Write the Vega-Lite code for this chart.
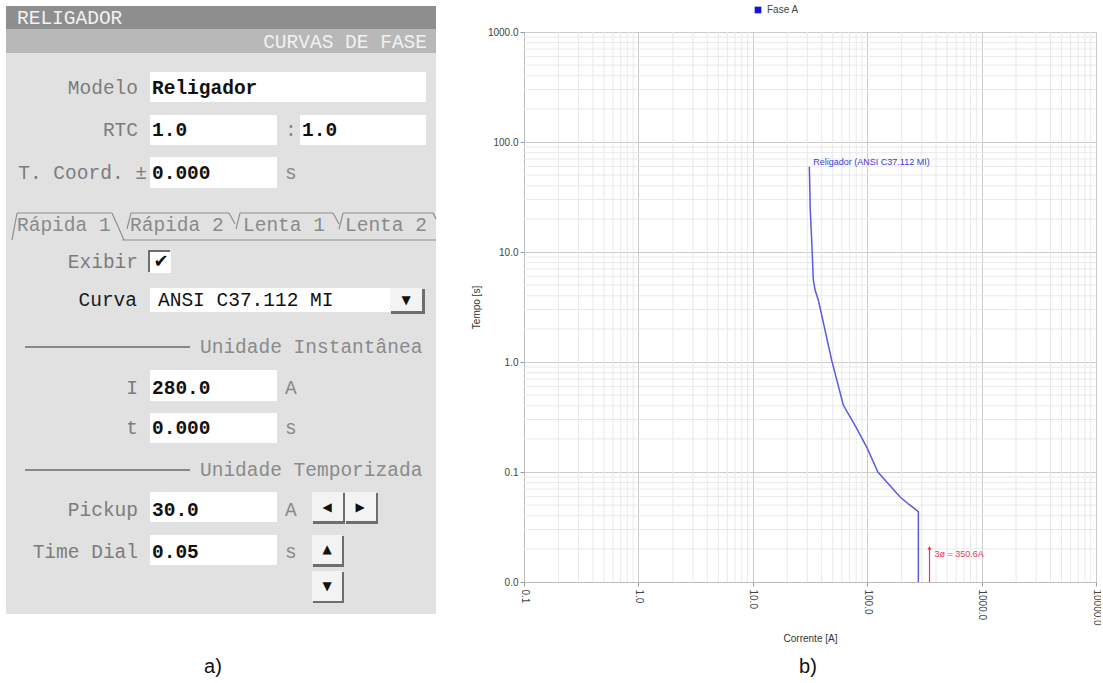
{
  "$schema": "https://vega.github.io/schema/vega-lite/v6.json",
  "padding": 0,
  "background": "white",
  "spacing": 24,
  "bounds": "flush",
  "config": {"view": {"stroke": null}, "font": "Liberation Sans"},
  "resolve": {"scale": {"color": "independent"}, "legend": {"color": "independent"}},
  "datasets": {
    "ui_rects": [
      {"x": 0, "x2": 440, "y": 0, "y2": 683, "kind": "bg"},
      {"x": 6, "x2": 436, "y": 6, "y2": 614, "kind": "panel"},
      {"x": 6, "x2": 436, "y": 6, "y2": 29, "kind": "bar1"},
      {"x": 6, "x2": 436, "y": 29, "y2": 53, "kind": "bar2"},
      {"x": 150, "x2": 426, "y": 72, "y2": 102, "kind": "field"},
      {"x": 150, "x2": 277, "y": 115, "y2": 145, "kind": "field"},
      {"x": 300, "x2": 426, "y": 115, "y2": 145, "kind": "field"},
      {"x": 150, "x2": 277, "y": 157, "y2": 188, "kind": "field"},
      {"x": 148, "x2": 170, "y": 250, "y2": 272, "kind": "shadow"},
      {"x": 150, "x2": 171, "y": 252, "y2": 273, "kind": "field"},
      {"x": 150, "x2": 422, "y": 288, "y2": 312, "kind": "field"},
      {"x": 391, "x2": 425, "y": 289, "y2": 314, "kind": "shadow"},
      {"x": 390, "x2": 422, "y": 288, "y2": 311, "kind": "button"},
      {"x": 313, "x2": 345, "y": 493, "y2": 524, "kind": "shadow"},
      {"x": 312, "x2": 343, "y": 492, "y2": 521, "kind": "button"},
      {"x": 346, "x2": 378, "y": 493, "y2": 524, "kind": "shadow"},
      {"x": 345, "x2": 376, "y": 492, "y2": 521, "kind": "button"},
      {"x": 313, "x2": 344, "y": 536, "y2": 567, "kind": "shadow"},
      {"x": 312, "x2": 342, "y": 535, "y2": 564, "kind": "button"},
      {"x": 313, "x2": 344, "y": 572, "y2": 603, "kind": "shadow"},
      {"x": 312, "x2": 342, "y": 571, "y2": 601, "kind": "button"},
      {"x": 150, "x2": 277, "y": 370, "y2": 401, "kind": "field"},
      {"x": 150, "x2": 277, "y": 413, "y2": 443, "kind": "field"},
      {"x": 150, "x2": 277, "y": 492, "y2": 522, "kind": "field"},
      {"x": 150, "x2": 277, "y": 535, "y2": 565, "kind": "field"}
    ],
    "ui_lines": [
      {"x": 25, "x2": 190, "y": 347, "y2": 347, "kind": "sep"},
      {"x": 25, "x2": 190, "y": 470, "y2": 470, "kind": "sep"},
      {"x": 12, "x2": 17, "y": 240, "y2": 213, "kind": "tab"},
      {"x": 17, "x2": 112, "y": 213, "y2": 213, "kind": "tab"},
      {"x": 112, "x2": 124, "y": 213, "y2": 240, "kind": "tab"},
      {"x": 122, "x2": 436, "y": 240, "y2": 240, "kind": "tab"},
      {"x": 127, "x2": 131, "y": 229, "y2": 213, "kind": "tab"},
      {"x": 131, "x2": 229, "y": 213, "y2": 213, "kind": "tab"},
      {"x": 229, "x2": 235, "y": 213, "y2": 224, "kind": "tab"},
      {"x": 236, "x2": 240, "y": 229, "y2": 213, "kind": "tab"},
      {"x": 240, "x2": 333, "y": 213, "y2": 213, "kind": "tab"},
      {"x": 333, "x2": 339, "y": 213, "y2": 224, "kind": "tab"},
      {"x": 339, "x2": 343, "y": 229, "y2": 213, "kind": "tab"},
      {"x": 343, "x2": 433, "y": 213, "y2": 213, "kind": "tab"},
      {"x": 433, "x2": 436, "y": 213, "y2": 219, "kind": "tab"}
    ],
    "ui_texts": [
      {"x": 17, "y": 18, "text": "RELIGADOR", "kind": "head"},
      {"x": 427, "y": 42, "text": "CURVAS DE FASE", "kind": "headR"},
      {"x": 138, "y": 88, "text": "Modelo", "kind": "label"},
      {"x": 138, "y": 130, "text": "RTC", "kind": "label"},
      {"x": 147, "y": 173, "text": "T. Coord. ±", "kind": "label"},
      {"x": 138, "y": 262, "text": "Exibir", "kind": "label"},
      {"x": 138, "y": 388, "text": "I", "kind": "label"},
      {"x": 138, "y": 428, "text": "t", "kind": "label"},
      {"x": 138, "y": 510, "text": "Pickup", "kind": "label"},
      {"x": 138, "y": 552, "text": "Time Dial", "kind": "label"},
      {"x": 137, "y": 300, "text": "Curva", "kind": "labelDark"},
      {"x": 152, "y": 88, "text": "Religador", "kind": "value"},
      {"x": 152, "y": 130, "text": "1.0", "kind": "value"},
      {"x": 302, "y": 130, "text": "1.0", "kind": "value"},
      {"x": 152, "y": 173, "text": "0.000", "kind": "value"},
      {"x": 152, "y": 388, "text": "280.0", "kind": "value"},
      {"x": 152, "y": 428, "text": "0.000", "kind": "value"},
      {"x": 152, "y": 510, "text": "30.0", "kind": "value"},
      {"x": 152, "y": 552, "text": "0.05", "kind": "value"},
      {"x": 158, "y": 300, "text": "ANSI C37.112 MI", "kind": "valueN"},
      {"x": 285, "y": 130, "text": ":", "kind": "unit"},
      {"x": 285, "y": 173, "text": "s", "kind": "unit"},
      {"x": 285, "y": 388, "text": "A", "kind": "unit"},
      {"x": 285, "y": 428, "text": "s", "kind": "unit"},
      {"x": 285, "y": 510, "text": "A", "kind": "unit"},
      {"x": 285, "y": 552, "text": "s", "kind": "unit"},
      {"x": 200, "y": 347, "text": "Unidade Instantânea", "kind": "section"},
      {"x": 200, "y": 470, "text": "Unidade Temporizada", "kind": "section"},
      {"x": 17, "y": 225, "text": "Rápida 1", "kind": "tab"},
      {"x": 130, "y": 225, "text": "Rápida 2", "kind": "tab"},
      {"x": 243, "y": 225, "text": "Lenta 1", "kind": "tab"},
      {"x": 345, "y": 225, "text": "Lenta 2", "kind": "tab"},
      {"x": 161, "y": 262, "text": "✔", "kind": "check"},
      {"x": 406, "y": 300, "text": "▼", "kind": "glyph"},
      {"x": 327, "y": 507, "text": "◀", "kind": "glyph"},
      {"x": 360, "y": 507, "text": "▶", "kind": "glyph"},
      {"x": 327, "y": 549, "text": "▲", "kind": "glyph"},
      {"x": 327, "y": 586, "text": "▼", "kind": "glyph"},
      {"x": 213, "y": 667, "text": "a)", "kind": "caption"},
      {"x": 808, "y": 667, "text": "b)", "kind": "caption"}
    ],
    "minorX": [
      {"I": 0.2}, {"I": 0.3}, {"I": 0.4}, {"I": 0.5}, {"I": 0.6}, {"I": 0.7}, {"I": 0.8}, {"I": 0.9},
      {"I": 2}, {"I": 3}, {"I": 4}, {"I": 5}, {"I": 6}, {"I": 7}, {"I": 8}, {"I": 9},
      {"I": 20}, {"I": 30}, {"I": 40}, {"I": 50}, {"I": 60}, {"I": 70}, {"I": 80}, {"I": 90},
      {"I": 200}, {"I": 300}, {"I": 400}, {"I": 500}, {"I": 600}, {"I": 700}, {"I": 800}, {"I": 900},
      {"I": 2000}, {"I": 3000}, {"I": 4000}, {"I": 5000}, {"I": 6000}, {"I": 7000}, {"I": 8000}, {"I": 9000}
    ],
    "minorY": [
      {"t": 0.02}, {"t": 0.03}, {"t": 0.04}, {"t": 0.05}, {"t": 0.06}, {"t": 0.07}, {"t": 0.08}, {"t": 0.09},
      {"t": 0.2}, {"t": 0.3}, {"t": 0.4}, {"t": 0.5}, {"t": 0.6}, {"t": 0.7}, {"t": 0.8}, {"t": 0.9},
      {"t": 2}, {"t": 3}, {"t": 4}, {"t": 5}, {"t": 6}, {"t": 7}, {"t": 8}, {"t": 9},
      {"t": 20}, {"t": 30}, {"t": 40}, {"t": 50}, {"t": 60}, {"t": 70}, {"t": 80}, {"t": 90},
      {"t": 200}, {"t": 300}, {"t": 400}, {"t": 500}, {"t": 600}, {"t": 700}, {"t": 800}, {"t": 900}
    ],
    "curve": [
      {"o": 1, "I": 31.2, "t": 59.7, "series": "Fase A"},
      {"o": 2, "I": 31.8, "t": 24, "series": "Fase A"},
      {"o": 3, "I": 32.7, "t": 12.9, "series": "Fase A"},
      {"o": 4, "I": 33.8, "t": 5.6, "series": "Fase A"},
      {"o": 5, "I": 35.0, "t": 4.51, "series": "Fase A"},
      {"o": 6, "I": 37.4, "t": 3.66, "series": "Fase A"},
      {"o": 7, "I": 48.9, "t": 1.04, "series": "Fase A"},
      {"o": 8, "I": 61.8, "t": 0.406, "series": "Fase A"},
      {"o": 9, "I": 80.9, "t": 0.249, "series": "Fase A"},
      {"o": 10, "I": 100, "t": 0.165, "series": "Fase A"},
      {"o": 11, "I": 124, "t": 0.1, "series": "Fase A"},
      {"o": 12, "I": 155, "t": 0.077, "series": "Fase A"},
      {"o": 13, "I": 194, "t": 0.0593, "series": "Fase A"},
      {"o": 14, "I": 232, "t": 0.0507, "series": "Fase A"},
      {"o": 15, "I": 280, "t": 0.0437, "series": "Fase A"},
      {"o": 16, "I": 280, "t": 0.01, "series": "Fase A"}
    ],
    "fault": [{"I": 350.6, "t": 0.01, "t2": 0.0204, "label": "3ø = 350.6A"}],
    "curveLabel": [{"I": 31.2, "t": 59.7, "label": "Religador (ANSI C37.112 MI)"}]
  },
  "hconcat": [
    {
      "width": 500,
      "height": 550,
      "layer": [
        {
          "data": {"name": "ui_rects"},
          "mark": {"type": "rect", "strokeWidth": 0},
          "encoding": {
            "x": {"field": "x", "type": "quantitative", "scale": {"domain": [0, 500], "nice": false, "zero": false}, "axis": null},
            "x2": {"field": "x2"},
            "y": {"field": "y", "type": "quantitative", "scale": {"domain": [32, 582], "reverse": true, "nice": false, "zero": false}, "axis": null},
            "y2": {"field": "y2"},
            "color": {"field": "kind", "type": "nominal", "legend": null,
              "scale": {"domain": ["bg", "panel", "bar1", "bar2", "shadow", "field", "button"],
                        "range": ["#ffffff", "#e1e1e1", "#8e8e8e", "#b8b8b8", "#6e6e6e", "#ffffff", "#f3f3f3"]}}
          }
        },
        {
          "data": {"name": "ui_lines"},
          "transform": [{"filter": "datum.kind === 'sep'"}],
          "mark": {"type": "rule", "color": "#6a6a6a", "strokeWidth": 1.5},
          "encoding": {
            "x": {"field": "x", "type": "quantitative"}, "x2": {"field": "x2"},
            "y": {"field": "y", "type": "quantitative"}, "y2": {"field": "y2"}
          }
        },
        {
          "data": {"name": "ui_lines"},
          "transform": [{"filter": "datum.kind === 'tab'"}],
          "mark": {"type": "rule", "color": "#8f8f8f", "strokeWidth": 1.2},
          "encoding": {
            "x": {"field": "x", "type": "quantitative"}, "x2": {"field": "x2"},
            "y": {"field": "y", "type": "quantitative"}, "y2": {"field": "y2"}
          }
        },
        {
          "data": {"name": "ui_texts"},
          "transform": [{"filter": "datum.kind === 'head'"}],
          "mark": {"type": "text", "align": "left", "baseline": "middle", "font": "Liberation Mono", "fontSize": 19.5, "color": "#f2f2f2"},
          "encoding": {"x": {"field": "x", "type": "quantitative"}, "y": {"field": "y", "type": "quantitative"}, "text": {"field": "text"}}
        },
        {
          "data": {"name": "ui_texts"},
          "transform": [{"filter": "datum.kind === 'headR'"}],
          "mark": {"type": "text", "align": "right", "baseline": "middle", "font": "Liberation Mono", "fontSize": 19.5, "color": "#f2f2f2"},
          "encoding": {"x": {"field": "x", "type": "quantitative"}, "y": {"field": "y", "type": "quantitative"}, "text": {"field": "text"}}
        },
        {
          "data": {"name": "ui_texts"},
          "transform": [{"filter": "datum.kind === 'label'"}],
          "mark": {"type": "text", "align": "right", "baseline": "middle", "font": "Liberation Mono", "fontSize": 19.5, "color": "#7c7c7c"},
          "encoding": {"x": {"field": "x", "type": "quantitative"}, "y": {"field": "y", "type": "quantitative"}, "text": {"field": "text"}}
        },
        {
          "data": {"name": "ui_texts"},
          "transform": [{"filter": "datum.kind === 'labelDark'"}],
          "mark": {"type": "text", "align": "right", "baseline": "middle", "font": "Liberation Mono", "fontSize": 19.5, "color": "#1a1a1a"},
          "encoding": {"x": {"field": "x", "type": "quantitative"}, "y": {"field": "y", "type": "quantitative"}, "text": {"field": "text"}}
        },
        {
          "data": {"name": "ui_texts"},
          "transform": [{"filter": "datum.kind === 'value'"}],
          "mark": {"type": "text", "align": "left", "baseline": "middle", "font": "Liberation Mono", "fontSize": 19.5, "fontWeight": "bold", "color": "#111111"},
          "encoding": {"x": {"field": "x", "type": "quantitative"}, "y": {"field": "y", "type": "quantitative"}, "text": {"field": "text"}}
        },
        {
          "data": {"name": "ui_texts"},
          "transform": [{"filter": "datum.kind === 'valueN'"}],
          "mark": {"type": "text", "align": "left", "baseline": "middle", "font": "Liberation Mono", "fontSize": 19.5, "color": "#111111"},
          "encoding": {"x": {"field": "x", "type": "quantitative"}, "y": {"field": "y", "type": "quantitative"}, "text": {"field": "text"}}
        },
        {
          "data": {"name": "ui_texts"},
          "transform": [{"filter": "datum.kind === 'unit' || datum.kind === 'section' || datum.kind === 'tab'"}],
          "mark": {"type": "text", "align": "left", "baseline": "middle", "font": "Liberation Mono", "fontSize": 19.5, "color": "#8a8a8a"},
          "encoding": {"x": {"field": "x", "type": "quantitative"}, "y": {"field": "y", "type": "quantitative"}, "text": {"field": "text"}}
        },
        {
          "data": {"name": "ui_texts"},
          "transform": [{"filter": "datum.kind === 'glyph'"}],
          "mark": {"type": "text", "align": "center", "baseline": "middle", "font": "DejaVu Sans", "fontSize": 12, "color": "#111111"},
          "encoding": {"x": {"field": "x", "type": "quantitative"}, "y": {"field": "y", "type": "quantitative"}, "text": {"field": "text"}}
        },
        {
          "data": {"name": "ui_texts"},
          "transform": [{"filter": "datum.kind === 'check'"}],
          "mark": {"type": "text", "align": "center", "baseline": "middle", "font": "DejaVu Sans", "fontSize": 18, "color": "#111111"},
          "encoding": {"x": {"field": "x", "type": "quantitative"}, "y": {"field": "y", "type": "quantitative"}, "text": {"field": "text"}}
        },
        {
          "data": {"name": "ui_texts"},
          "transform": [{"filter": "datum.kind === 'caption'"}],
          "mark": {"type": "text", "align": "center", "baseline": "middle", "font": "Liberation Sans", "fontSize": 20, "color": "#111111"},
          "encoding": {"x": {"field": "x", "type": "quantitative"}, "y": {"field": "y", "type": "quantitative"}, "text": {"field": "text"}}
        }
      ]
    },
    {
      "width": 572,
      "height": 550,
      "layer": [
        {
          "data": {"name": "minorX"},
          "mark": {"type": "rule", "color": "#e9e9e9", "strokeWidth": 1},
          "encoding": {
            "x": {"field": "I", "type": "quantitative", "scale": {"type": "log", "domain": [0.1, 10000], "nice": false}}
          }
        },
        {
          "data": {"name": "minorY"},
          "mark": {"type": "rule", "color": "#e9e9e9", "strokeWidth": 1},
          "encoding": {
            "y": {"field": "t", "type": "quantitative", "scale": {"type": "log", "domain": [0.01, 1000], "nice": false}}
          }
        },
        {
          "data": {"name": "curve"},
          "mark": {"type": "line", "strokeWidth": 1.5},
          "encoding": {
            "x": {"field": "I", "type": "quantitative", "scale": {"type": "log", "domain": [0.1, 10000], "nice": false},
              "axis": {"values": [0.1, 1, 10, 100, 1000, 10000], "format": ".1f", "labelAngle": 90, "labelFlush": false, "labelOverlap": false,
                "title": "Corrente [A]", "grid": true, "gridColor": "#cccccc", "tickColor": "#999999", "tickSize": 4,
                "domainColor": "#bbbbbb", "labelFont": "Liberation Sans", "labelFontSize": 10, "labelColor": "#444444", "labelPadding": 3,
                "titleFont": "Liberation Sans", "titleFontSize": 10, "titleFontWeight": "normal", "titleColor": "#333333", "titlePadding": 8}},
            "y": {"field": "t", "type": "quantitative", "scale": {"type": "log", "domain": [0.01, 1000], "nice": false},
              "axis": {"values": [0.01, 0.1, 1, 10, 100, 1000], "format": ".1f", "labelFlush": false, "labelOverlap": false,
                "title": "Tempo [s]", "grid": true, "gridColor": "#cccccc", "tickColor": "#999999", "tickSize": 4,
                "domainColor": "#bbbbbb", "labelFont": "Liberation Sans", "labelFontSize": 10, "labelColor": "#444444", "labelPadding": 2,
                "titleFont": "Liberation Sans", "titleFontSize": 10, "titleFontWeight": "normal", "titleColor": "#333333", "titlePadding": 6}},
            "order": {"field": "o", "type": "quantitative"},
            "color": {"field": "series", "type": "nominal", "scale": {"range": ["#5a5ae6"]},
              "legend": {"orient": "none", "legendX": 229, "legendY": -27, "title": null, "direction": "horizontal",
                "symbolType": "square", "symbolSize": 45, "labelFont": "Liberation Sans", "labelFontSize": 10, "labelColor": "#444444",
                "encode": {"symbols": {"update": {"fill": {"value": "#1414d6"}, "stroke": {"value": "#1414d6"}, "strokeWidth": {"value": 0}}}}}}
          }
        },
        {
          "data": {"name": "fault"},
          "mark": {"type": "rule", "color": "#e53955", "strokeWidth": 1.2},
          "encoding": {
            "x": {"field": "I", "type": "quantitative"},
            "y": {"field": "t", "type": "quantitative"},
            "y2": {"field": "t2"}
          }
        },
        {
          "data": {"name": "fault"},
          "mark": {"type": "point", "shape": "triangle-up", "filled": true, "color": "#e53955", "size": 18, "opacity": 1},
          "encoding": {
            "x": {"field": "I", "type": "quantitative"},
            "y": {"field": "t2", "type": "quantitative"}
          }
        },
        {
          "data": {"name": "fault"},
          "mark": {"type": "text", "align": "left", "baseline": "middle", "dx": 5, "dy": 6, "fontSize": 9, "font": "Liberation Sans", "color": "#e53955"},
          "encoding": {
            "x": {"field": "I", "type": "quantitative"},
            "y": {"field": "t2", "type": "quantitative"},
            "text": {"field": "label"}
          }
        },
        {
          "data": {"name": "curveLabel"},
          "mark": {"type": "text", "align": "left", "baseline": "middle", "dx": 4, "dy": -5, "fontSize": 9, "font": "Liberation Sans", "color": "#3b3bd9"},
          "encoding": {
            "x": {"field": "I", "type": "quantitative"},
            "y": {"field": "t", "type": "quantitative"},
            "text": {"field": "label"}
          }
        }
      ]
    }
  ]
}
